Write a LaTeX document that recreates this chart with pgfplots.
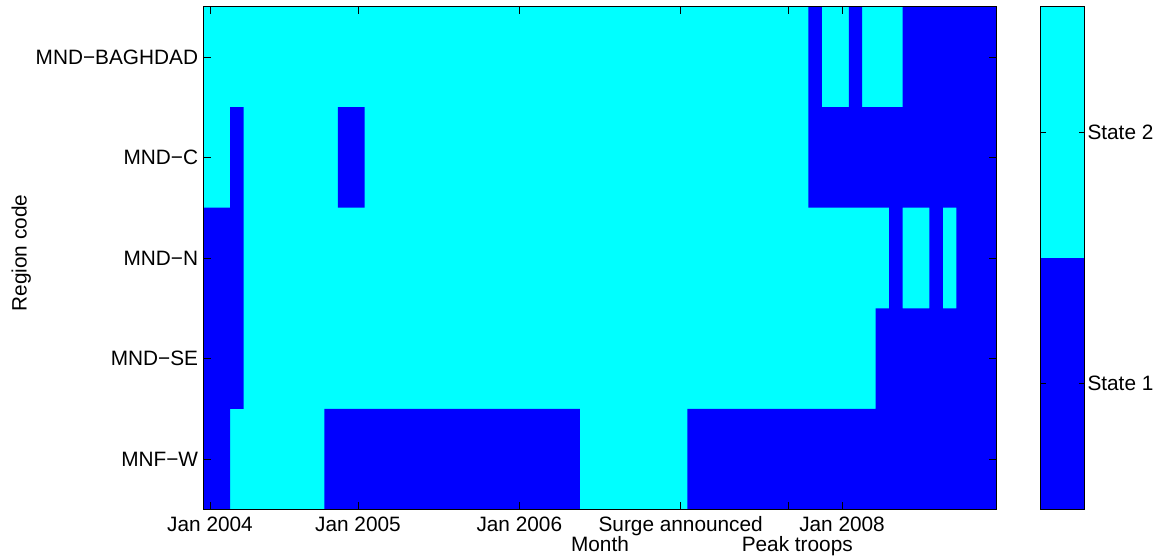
\documentclass[border=0pt]{standalone}
\usepackage{fontspec}
\setmainfont{Liberation Sans}
\usepackage{pgfplots}
\pgfplotsset{compat=1.18}
\definecolor{stateone}{RGB}{0,0,255}
\definecolor{statetwo}{RGB}{0,255,255}
\begin{document}
\begin{tikzpicture}
\useasboundingbox (-203.3pt,-49.7pt) rectangle (955.7pt,509.3pt);
\pgfplotsset{
  every axis/.append style={font=\fontsize{20.8pt}{24pt}\selectfont},
}
\begin{axis}[
  at={(0pt,0pt)}, anchor=south west,
  scale only axis, width=793.4pt, height=502.6pt,
  xmin=0.5, xmax=59.5, ymin=0.5, ymax=5.5,
  axis on top,
  unbounded coords=jump,
  xtick={1,12,24,36,44,48},
  xticklabels={Jan 2004, Jan 2005, Jan 2006, Surge announced, {\raisebox{-20pt}[0pt][0pt]{\hspace*{18pt}Peak troops}}, Jan 2008},
  ytick={1,2,3,4,5},
  yticklabels={MNF−W, MND−SE, MND−N, MND−C, MND−BAGHDAD},
  tick align=inside, xtick pos=both, ytick pos=both,
  major tick length=7.3pt,
  every tick/.style={black, line width=0.8pt},
  axis line style={black, line width=0.8pt},
  xticklabel style={anchor=base, yshift=-22.4pt},
  yticklabel style={anchor=east, inner sep=0pt, xshift=-5pt},
  xlabel={Month}, ylabel={Region code},
  every axis x label/.style={at={(axis description cs:0.5,-0.08436)}, anchor=base},
  every axis y label/.style={at={(axis description cs:-0.2226,0.51)}, rotate=90, anchor=base},
]
% State 2 everywhere (months 1..59, regions 1..5)
\addplot[fill=statetwo, draw=none] coordinates {
(0.5,0.5) (59.5,0.5) (59.5,5.5) (0.5,5.5)
};
% State 1 runs: months [first-0.5, last+0.5] x region band
\addplot[fill=stateone, draw=none] coordinates {
% MNF-W: months 1-2, 10-28, 37-59
(0.5,0.5) (2.5,0.5) (2.5,1.5) (0.5,1.5) (nan,nan)
(9.5,0.5) (28.5,0.5) (28.5,1.5) (9.5,1.5) (nan,nan)
(36.5,0.5) (59.5,0.5) (59.5,1.5) (36.5,1.5) (nan,nan)
% MND-SE: months 1-3, 51-59
(0.5,1.5) (3.5,1.5) (3.5,2.5) (0.5,2.5) (nan,nan)
(50.5,1.5) (59.5,1.5) (59.5,2.5) (50.5,2.5) (nan,nan)
% MND-N: months 1-3, 52, 55, 57-59
(0.5,2.5) (3.5,2.5) (3.5,3.5) (0.5,3.5) (nan,nan)
(51.5,2.5) (52.5,2.5) (52.5,3.5) (51.5,3.5) (nan,nan)
(54.5,2.5) (55.5,2.5) (55.5,3.5) (54.5,3.5) (nan,nan)
(56.5,2.5) (59.5,2.5) (59.5,3.5) (56.5,3.5) (nan,nan)
% MND-C: months 3, 11-12, 46-59
(2.5,3.5) (3.5,3.5) (3.5,4.5) (2.5,4.5) (nan,nan)
(10.5,3.5) (12.5,3.5) (12.5,4.5) (10.5,4.5) (nan,nan)
(45.5,3.5) (59.5,3.5) (59.5,4.5) (45.5,4.5) (nan,nan)
% MND-BAGHDAD: months 46, 49, 53-59
(45.5,4.5) (46.5,4.5) (46.5,5.5) (45.5,5.5) (nan,nan)
(48.5,4.5) (49.5,4.5) (49.5,5.5) (48.5,5.5) (nan,nan)
(52.5,4.5) (59.5,4.5) (59.5,5.5) (52.5,5.5)
};
\end{axis}
\begin{axis}[
  at={(837.4pt,0pt)}, anchor=south west,
  scale only axis, width=43.6pt, height=502.6pt,
  xmin=0, xmax=1, ymin=0.5, ymax=2.5,
  axis on top,
  xtick=\empty,
  ytick={1,2}, yticklabels={State 1, State 2},
  yticklabel pos=right, ytick pos=both, tick align=inside,
  major tick length=5pt,
  every tick/.style={black, line width=0.8pt},
  axis line style={black, line width=0.8pt},
  yticklabel style={anchor=west, inner sep=0pt, xshift=3pt},
]
\addplot[fill=stateone, draw=none] coordinates {(0,0.5) (1,0.5) (1,1.5) (0,1.5)};
\addplot[fill=statetwo, draw=none] coordinates {(0,1.5) (1,1.5) (1,2.5) (0,2.5)};
\end{axis}
\end{tikzpicture}
\end{document}
